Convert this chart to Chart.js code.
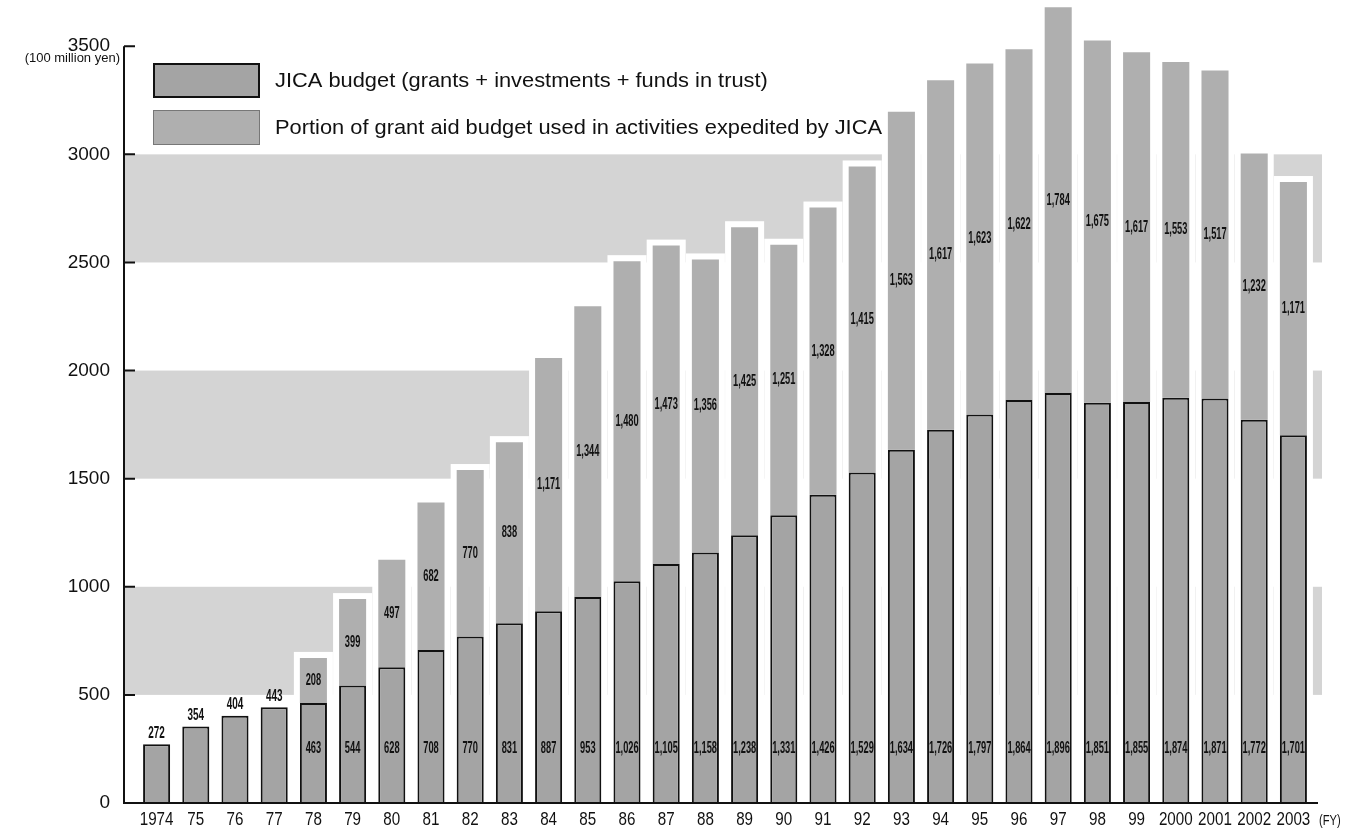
<!DOCTYPE html>
<html>
<head>
<meta charset="utf-8">
<script src="https://cdn.jsdelivr.net/npm/chart.js@4"></script>
<style>
  html, body { margin: 0; padding: 0; background: #fff; }
  #wrap { width: 1358px; height: 834px; }
</style>
</head>
<body>
<div id="wrap"><canvas id="chart" width="1358" height="834"></canvas></div>
<script>
const years = ["1974", "75", "76", "77", "78", "79", "80", "81", "82", "83", "84", "85", "86", "87", "88", "89",
  "90", "91", "92", "93", "94", "95", "96", "97", "98", "99", "2000", "2001", "2002", "2003"];

// JICA budget (bottom, outlined bars)
const jicaBudget = [272, 354, 404, 443, 463, 544, 628, 708, 770, 831, 887, 953, 1026, 1105, 1158, 1238,
  1331, 1426, 1529, 1634, 1726, 1797, 1864, 1896, 1851, 1855, 1874, 1871, 1772, 1701];

// grant aid portion (stacked on top)
const grantAid = [null, null, null, null, 208, 399, 497, 682, 770, 838, 1171, 1344, 1480, 1473, 1356, 1425,
  1251, 1328, 1415, 1563, 1617, 1623, 1622, 1784, 1675, 1617, 1553, 1517, 1232, 1171];

const yTicks = [0, 500, 1000, 1500, 2000, 2500, 3000, 3500];
const bandRanges = [[500, 1000], [1500, 2000], [2500, 3000]];

const seriesLabels = [
  "JICA budget (grants + investments + funds in trust)",
  "Portion of grant aid budget used in activities expedited by JICA"
];

const FONT = "'Liberation Sans', Arial, sans-serif";
const BAR_GREY = "#a4a4a4";
const TOP_GREY = "#afafaf";
const BAND_GREY = "#d4d4d4";
const AXIS_X = 124;

// draw text squeezed horizontally (the print uses a condensed face)
function squeezed(ctx, txt, x, y, sx) {
  ctx.save();
  ctx.translate(x, y);
  ctx.scale(sx, 1);
  ctx.fillText(txt, 0, 0);
  ctx.restore();
}

const backdrop = {
  id: "backdrop",
  beforeDatasetsDraw(chart) {
    const { ctx, chartArea, scales } = chart;
    const y = scales.y;
    ctx.save();
    ctx.fillStyle = BAND_GREY;
    bandRanges.forEach(([lo, hi]) => {
      const top = y.getPixelForValue(hi);
      const bot = y.getPixelForValue(lo);
      ctx.fillRect(AXIS_X, top, chartArea.right + 9 - AXIS_X, bot - top);
    });
    // white halo round each stacked bar
    ctx.fillStyle = "#fff";
    const m0 = chart.getDatasetMeta(0).data;
    const m1 = chart.getDatasetMeta(1).data;
    m0.forEach((el, i) => {
      const topEl = grantAid[i] ? m1[i] : el;
      const w = el.width / 2 + 6;
      ctx.fillRect(el.x - w, topEl.y - 6, w * 2, el.base - topEl.y + 6);
    });
    ctx.restore();
  },
  afterDatasetsDraw(chart) {
    const { ctx, chartArea, scales } = chart;
    const y = scales.y;
    const m0 = chart.getDatasetMeta(0).data;
    const m1 = chart.getDatasetMeta(1).data;
    ctx.save();
    ctx.fillStyle = "#111";
    ctx.textAlign = "center";
    ctx.font = "bold 16px " + FONT;
    m0.forEach((el, i) => {
      const txt = jicaBudget[i].toLocaleString("en-US");
      if (grantAid[i]) {
        ctx.textBaseline = "middle";
        squeezed(ctx, txt, el.x, y.getPixelForValue(250), 0.58);
        const t = m1[i];
        squeezed(ctx, grantAid[i].toLocaleString("en-US"), t.x, (t.y + t.base) / 2, 0.58);
      } else {
        ctx.textBaseline = "bottom";
        squeezed(ctx, txt, el.x, el.y - 3, 0.62);
      }
    });

    // axes
    ctx.strokeStyle = "#111";
    ctx.lineWidth = 2;
    ctx.beginPath();
    ctx.moveTo(AXIS_X, y.getPixelForValue(3500));
    ctx.lineTo(AXIS_X, chartArea.bottom);
    ctx.lineTo(chartArea.right + 5, chartArea.bottom);
    yTicks.forEach(v => {
      const py = y.getPixelForValue(v);
      ctx.moveTo(AXIS_X, py);
      ctx.lineTo(AXIS_X + 11, py);
    });
    ctx.stroke();
    ctx.restore();
  },
  afterDraw(chart) {
    const { ctx, chartArea, scales } = chart;
    ctx.save();
    ctx.fillStyle = "#111";

    // category labels
    ctx.font = "19px " + FONT;
    ctx.textAlign = "center";
    ctx.textBaseline = "middle";
    years.forEach((lab, i) => {
      squeezed(ctx, lab, scales.x.getPixelForValue(i), chartArea.bottom + 17, 0.8);
    });
    ctx.textAlign = "left";
    ctx.font = "14px " + FONT;
    squeezed(ctx, "(FY)", chartArea.right + 6, chartArea.bottom + 18, 0.8);

    // unit label
    ctx.font = "13px " + FONT;
    ctx.textAlign = "right";
    squeezed(ctx, "(100 million yen)", 120, scales.y.getPixelForValue(3500) + 12, 1.0);

    // legend
    const boxes = [
      { y: 63, fill: BAR_GREY, border: "#111", lw: 2 },
      { y: 110, fill: TOP_GREY, border: "#777", lw: 1 }
    ];
    const stretch = 1.04;
    ctx.font = "21px " + FONT;
    ctx.textAlign = "left";
    boxes.forEach((b, i) => {
      ctx.fillStyle = b.fill;
      ctx.fillRect(153, b.y, 107, 35);
      ctx.strokeStyle = b.border;
      ctx.lineWidth = b.lw;
      ctx.strokeRect(153 + b.lw / 2, b.y + b.lw / 2, 107 - b.lw, 35 - b.lw);
      const tw = ctx.measureText(seriesLabels[i]).width * stretch;
      ctx.fillStyle = "#fff";
      ctx.fillRect(270, b.y + 5, tw + 8, 26);
      ctx.fillStyle = "#111";
      squeezed(ctx, seriesLabels[i], 275, b.y + 18, stretch);
    });
    ctx.restore();
  }
};

new Chart(document.getElementById("chart"), {
  type: "bar",
  data: {
    labels: years,
    datasets: [
      {
        label: seriesLabels[0],
        data: jicaBudget,
        backgroundColor: BAR_GREY,
        borderColor: "#111",
        borderWidth: 2,
      },
      {
        label: seriesLabels[1],
        data: grantAid,
        backgroundColor: TOP_GREY,
        borderWidth: 0,
      },
    ],
  },
  options: {
    responsive: false,
    animation: false,
    devicePixelRatio: 1,
    categoryPercentage: 1,
    barPercentage: 0.69,
    layout: { padding: { top: 3, right: 45, left: 0, bottom: 0 } },
    plugins: {
      legend: { display: false },
      tooltip: { enabled: false },
    },
    scales: {
      x: {
        stacked: true,
        grid: { display: false },
        border: { display: false },
        ticks: { display: false },
        afterFit(scale) {
          scale.height = 31;
          scale.paddingLeft = 0;
          scale.paddingRight = 0;
        },
      },
      y: {
        stacked: true,
        min: 0,
        max: 3700,
        grid: { display: false },
        border: { display: false },
        ticks: {
          stepSize: 500,
          color: "#111",
          font: { family: FONT, size: 19 },
          padding: 19,
          callback: v => String(v),
        },
        afterBuildTicks(scale) {
          scale.ticks = yTicks.map(v => ({ value: v }));
        },
        afterFit(scale) {
          scale.width = 137;
          scale.paddingTop = 0;
          scale.paddingBottom = 0;
        },
      },
    },
  },
  plugins: [backdrop],
});
</script>
</body>
</html>
